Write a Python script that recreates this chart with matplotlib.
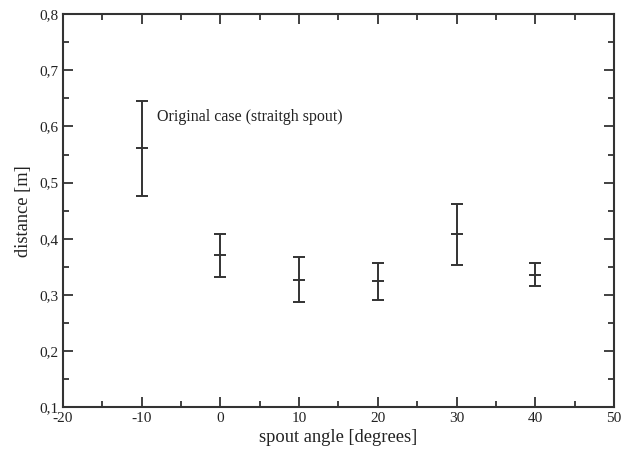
import matplotlib
matplotlib.use('Agg')
from matplotlib import pyplot as plt
from matplotlib.ticker import MultipleLocator, FuncFormatter

ANGLES = [-10, 0, 10, 20, 30, 40]
MEAN = [0.561, 0.371, 0.326, 0.324, 0.408, 0.335]
UPPER = [0.645, 0.409, 0.367, 0.357, 0.462, 0.357]
LOWER = [0.476, 0.332, 0.287, 0.291, 0.354, 0.316]
NOTE = 'Original case (straitgh spout)'


def main():
    plt.rcParams['font.family'] = 'Liberation Serif'
    plt.rcParams['axes.unicode_minus'] = False
    fig = plt.figure(figsize=(6.33, 4.58), dpi=100)
    ax = fig.add_axes([0.0995, 0.111, 0.8705, 0.858])

    err_up = [u - m for u, m in zip(UPPER, MEAN)]
    err_lo = [m - l for l, m in zip(LOWER, MEAN)]
    ax.errorbar(ANGLES, MEAN, yerr=[err_lo, err_up], fmt='_', color='#333333',
                ecolor='#333333', elinewidth=1.4, capsize=4.3, capthick=1.4,
                markersize=8.6, markeredgewidth=1.4)

    ax.text(-8, 0.617, NOTE, fontsize=11.5, va='center', ha='left', color='#222222')

    ax.set_xlim(-20, 50)
    ax.set_ylim(0.1, 0.8)
    ax.xaxis.set_major_locator(MultipleLocator(10))
    ax.xaxis.set_minor_locator(MultipleLocator(5))
    ax.yaxis.set_major_locator(MultipleLocator(0.1))
    ax.yaxis.set_minor_locator(MultipleLocator(0.05))
    ax.yaxis.set_major_formatter(FuncFormatter(lambda v, p: ('%.1f' % v).replace('.', ',')))
    ax.tick_params(which='both', direction='in', top=True, right=True,
                   width=1.3, colors='#333333', labelcolor='#222222', labelsize=11)
    ax.tick_params(which='major', length=7)
    ax.tick_params(which='minor', length=4)
    for s in ax.spines.values():
        s.set_linewidth(1.5)
        s.set_color('#333333')

    ax.set_xlabel('spout angle [degrees]', fontsize=13.3, color='#222222', labelpad=3)
    ax.set_ylabel('distance [m]', fontsize=13.3, color='#222222', labelpad=5)

    fig.savefig('out.png', dpi=100)


if __name__ == '__main__':
    main()
